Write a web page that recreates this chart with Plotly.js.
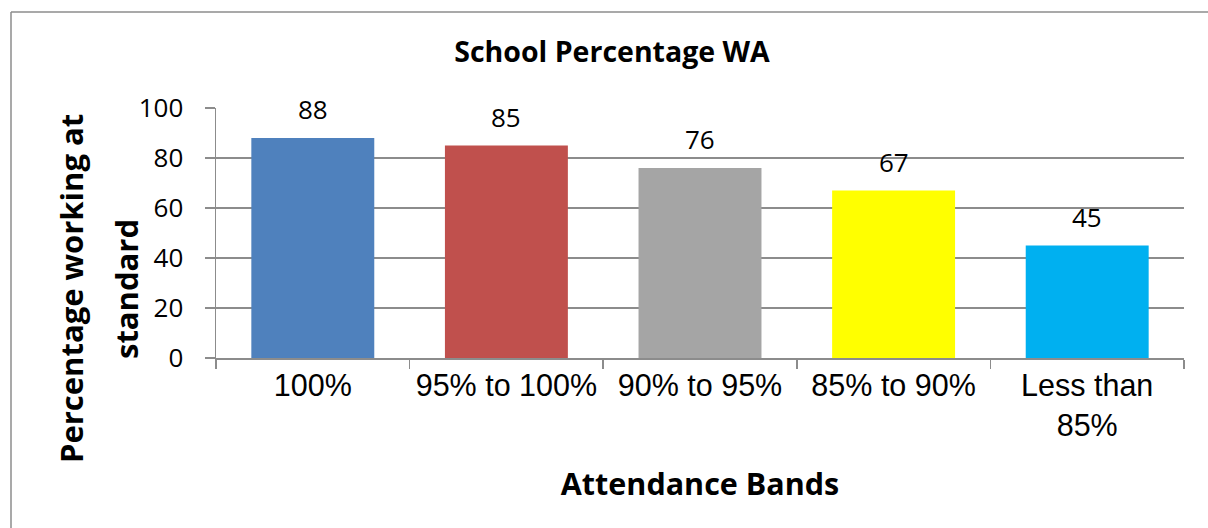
<!DOCTYPE html>
<html>
<head>
<meta charset="utf-8">
<script src="https://cdn.plot.ly/plotly-3.0.1.min.js"></script>
<style>
  html, body { margin: 0; padding: 0; background: #ffffff; overflow: hidden; }
  #chart { width: 1208px; height: 528px; }
</style>
</head>
<body>
<div id="chart"></div>
<script>
// Attendance bands and the share of pupils working at standard in each
const bands = ['100%', '95% to 100%', '90% to 95%', '85% to 90%', 'Less than<br>85%'];
const pctAtStandard = [88, 85, 76, 67, 45];
const barColors = ['#4F81BD', '#C0504D', '#A5A5A5', '#FFFF00', '#00B0F0'];
const yTicks = [0, 20, 40, 60, 80, 100];
const yTitleLines = ['Percentage working at', 'standard'];

const W = 1208, H = 528;
const margin = { l: 216, r: 24, t: 108, b: 170 };
const plotW = W - margin.l - margin.r;
const plotH = H - margin.t - margin.b;

// pixel helpers -> paper coordinates
const px = v => (v - margin.l) / plotW;
const py = v => (H - margin.b - v) / plotH;

const bar = {
  type: 'bar',
  x: bands,
  y: pctAtStandard,
  marker: { color: barColors, line: { width: 0 } },
  hoverinfo: 'x+y'
};

// value labels above each bar
const labels = bands.map((b, i) => ({
  x: b,
  y: pctAtStandard[i],
  xref: 'x',
  yref: 'y',
  text: String(pctAtStandard[i]),
  showarrow: false,
  yanchor: 'bottom',
  yshift: 9,
  font: { family: 'Open Sans, sans-serif', size: 26, color: '#000000' }
}));

// vertical axis title, set as two rotated lines
const yTitleX = [71, 126];
const yTitle = yTitleLines.map((t, i) => ({
  x: px(yTitleX[i]),
  y: py(289),
  xref: 'paper',
  yref: 'paper',
  text: '<b>' + t + '</b>',
  textangle: -90,
  showarrow: false,
  xanchor: 'center',
  yanchor: 'middle',
  font: { family: 'Open Sans, sans-serif', size: 31, color: '#000000' }
}));

const layout = {
  width: W,
  height: H,
  margin: margin,
  paper_bgcolor: '#ffffff',
  plot_bgcolor: '#ffffff',
  showlegend: false,
  bargap: 0.365,
  title: {
    text: '<b>School Percentage WA</b>',
    font: { family: 'Open Sans, sans-serif', size: 28.5, color: '#000000' },
    x: 612 / W,
    xanchor: 'center',
    xref: 'container',
    y: 1 - 52 / H,
    yanchor: 'middle',
    yref: 'container'
  },
  xaxis: {
    type: 'category',
    showline: true,
    linecolor: '#8c8c8c',
    linewidth: 1.5,
    ticks: 'outside',
    tickson: 'boundaries',
    ticklen: 9,
    tickcolor: '#8c8c8c',
    tickwidth: 1.5,
    showgrid: false,
    zeroline: false,
    tickfont: { family: 'Liberation Sans, Arial, sans-serif', size: 30.5, color: '#000000' },
    title: {
      text: '<b>Attendance Bands</b>',
      font: { family: 'Open Sans, sans-serif', size: 30.5, color: '#000000' },
      standoff: 33
    }
  },
  yaxis: {
    range: [0, 100],
    tickvals: yTicks,
    ticktext: yTicks.map(String),
    showline: true,
    linecolor: '#8c8c8c',
    linewidth: 1.5,
    ticks: 'outside',
    ticklen: 10,
    tickcolor: '#8c8c8c',
    tickwidth: 1.5,
    ticklabelstandoff: 16,
    showgrid: true,
    gridcolor: '#8c8c8c',
    gridwidth: 1.5,
    zeroline: false,
    tickfont: { family: 'Open Sans, sans-serif', size: 26, color: '#000000' }
  },
  annotations: labels.concat(yTitle),
  shapes: [
    // outer frame: left edge
    { type: 'line', xref: 'paper', yref: 'paper',
      x0: px(11), x1: px(11), y0: py(528), y1: py(12),
      line: { color: '#8c8c8c', width: 1.5 }, layer: 'below' },
    // outer frame: top edge, running off the right side
    { type: 'line', xref: 'paper', yref: 'paper',
      x0: px(11), x1: px(1210), y0: py(12), y1: py(12),
      line: { color: '#8c8c8c', width: 1.5 }, layer: 'below' }
  ]
};

Plotly.newPlot('chart', [bar], layout, { displayModeBar: false, staticPlot: true });
</script>
</body>
</html>
